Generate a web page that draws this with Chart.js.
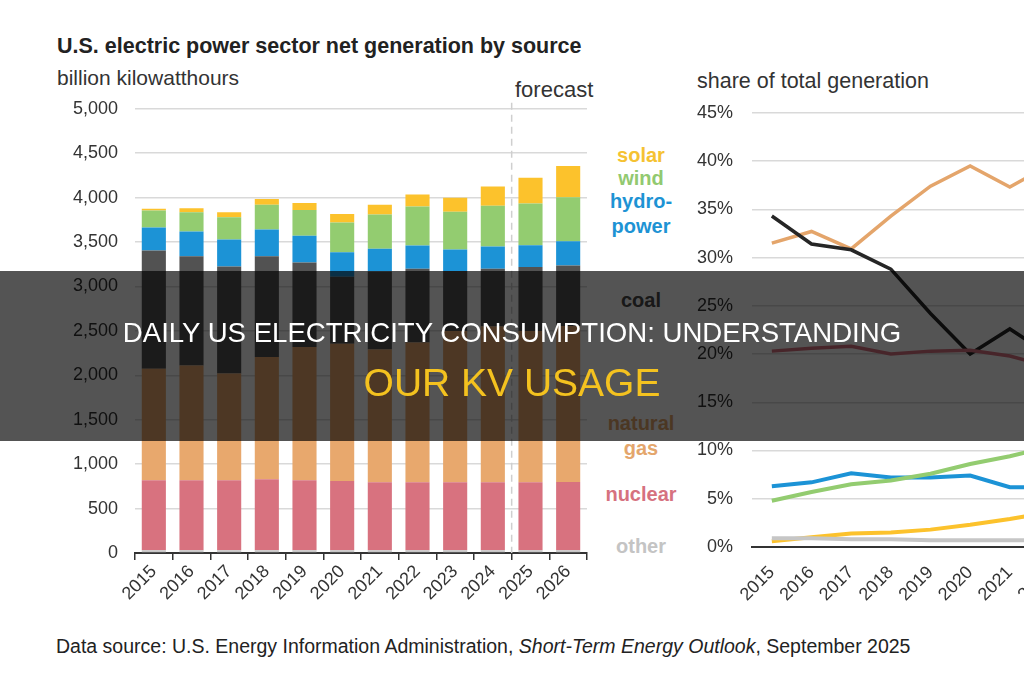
<!DOCTYPE html>
<html>
<head>
<meta charset="utf-8">
<script src="https://cdn.jsdelivr.net/npm/chart.js@4.4.1/dist/chart.umd.min.js"></script>
<style>
  html, body { margin: 0; padding: 0; width: 1024px; height: 680px; overflow: hidden; background: #fff; }
  body { position: relative; font-family: "Liberation Sans", Arial, sans-serif; color: #2b2b2b; }
  .abs { position: absolute; white-space: nowrap; line-height: 1; }
  #genWrap { position: absolute; left: 0; top: 81px; width: 600px; height: 549px; }
  #shareWrap { position: absolute; left: 680px; top: 83px; width: 560px; height: 547px; }
  .title { left: 57px; top: 36px; font-size: 21.5px; font-weight: bold; color: #222; }
  .unit { color: #333; }
  .lbl { font-size: 20px; font-weight: bold; width: 90px; left: 596px; text-align: center; }
  .note { left: 56px; top: 637px; font-size: 19.5px; color: #222; }
  #banner { position: absolute; left: 0; top: 271px; width: 1024px; height: 170px; background: rgba(0, 0, 0, 0.67); z-index: 10; }
  .bline { position: absolute; left: 0; width: 1024px; text-align: center; white-space: nowrap; line-height: 1; }
</style>
</head>
<body>
<div class="abs title">U.S. electric power sector net generation by source</div>
<div class="abs unit" style="left:57px; top:67px; font-size:21px;">billion kilowatthours</div>
<div class="abs unit" style="left:515px; top:79px; font-size:22px;">forecast</div>
<div class="abs unit" style="left:697px; top:71px; font-size:21.5px;">share of total generation</div>

<div class="abs lbl" style="top:145px; color:#f5c232;">solar</div>
<div class="abs lbl" style="top:168px; color:#92c970;">wind</div>
<div class="abs lbl" style="top:191px; color:#1d93d4;">hydro-</div>
<div class="abs lbl" style="top:216px; color:#1d93d4;">power</div>
<div class="abs lbl" style="top:290px; color:#4a4a4a;">coal</div>
<div class="abs lbl" style="top:413px; color:#e4a66c;">natural</div>
<div class="abs lbl" style="top:438px; color:#e4a66c;">gas</div>
<div class="abs lbl" style="top:484px; color:#d6727f;">nuclear</div>
<div class="abs lbl" style="top:536px; color:#c4c4c4;">other</div>

<div id="genWrap"><canvas id="genChart"></canvas></div>
<div id="shareWrap"><canvas id="shareChart"></canvas></div>

<div class="abs note">Data source: U.S. Energy Information Administration, <i>Short-Term Energy Outlook</i>, September 2025</div>

<div id="banner">
  <div class="bline" style="top:48px; font-size:27.6px; color:#fff;">DAILY US ELECTRICITY CONSUMPTION: UNDERSTANDING</div>
  <div class="bline" style="top:92px; font-size:39px; color:#f4c21f;">OUR KV USAGE</div>
</div>

<script>
// years on both charts, 2025-2026 are forecast
const years = ['2015', '2016', '2017', '2018', '2019', '2020', '2021', '2022', '2023', '2024', '2025', '2026'];
const forecastFrom = '2025';

// net generation, billion kWh
const otherGen = [30, 30, 30, 30, 30, 30, 30, 30, 30, 30, 30, 30];
const nuclearGen = [790, 790, 790, 800, 790, 780, 765, 765, 765, 765, 765, 770];
const gasGen = [1255, 1290, 1200, 1375, 1500, 1545, 1495, 1575, 1705, 1755, 1705, 1755];
const coalGen = [1330, 1230, 1205, 1135, 950, 755, 880, 830, 675, 650, 720, 680];
const hydroGen = [260, 280, 305, 300, 300, 275, 255, 260, 240, 250, 245, 275];
const windGen = [190, 215, 250, 280, 290, 335, 385, 440, 425, 460, 470, 495];
const solarGen = [20, 45, 55, 65, 80, 95, 110, 135, 160, 215, 290, 350];

// share of total generation, percent
const gasShare = [31.5, 32.7, 30.9, 34.3, 37.4, 39.5, 37.3, 39.6, 42.5, 42.5, 40.5, 40.3];
const coalShare = [34.3, 31.4, 30.8, 28.8, 24.2, 20.0, 22.6, 19.9, 16.5, 15.5, 16.5, 15.5];
const nuclearShare = [20.3, 20.6, 20.8, 20.0, 20.3, 20.4, 19.8, 18.7, 18.9, 18.6, 18.2, 18.0];
const hydroShare = [6.3, 6.7, 7.65, 7.2, 7.2, 7.4, 6.2, 6.2, 5.9, 5.9, 5.8, 6.3];
const windShare = [4.8, 5.7, 6.5, 6.9, 7.6, 8.6, 9.4, 10.4, 10.3, 10.9, 11.1, 11.4];
const solarShare = [0.6, 1.0, 1.4, 1.5, 1.8, 2.3, 2.9, 3.6, 4.0, 5.2, 6.7, 7.8];
const otherShare = [0.9, 0.9, 0.8, 0.8, 0.7, 0.7, 0.7, 0.7, 0.6, 0.6, 0.6, 0.6];

const colors = {
    other: '#c6c6c6',
    nuclear: '#d8727f',
    gas: '#e8a86d',
    coal: '#525252',
    hydro: '#1c93d6',
    wind: '#93cc70',
    solar: '#fcc22c'
};

Chart.defaults.font.family = '"Liberation Sans", Arial, sans-serif';
Chart.defaults.color = '#333';
Chart.defaults.animation = false;

const gridColor = '#d9d9d9';
const tickFont = { size: 18 };

// dashed separator between history and forecast
const forecastLine = {
    id: 'forecastLine',
    beforeDatasetsDraw(chart) {
        const xs = chart.scales.x;
        const i = years.indexOf(forecastFrom);
        const px = (xs.getPixelForValue(i - 1) + xs.getPixelForValue(i)) / 2;
        const ctx = chart.ctx;
        ctx.save();
        ctx.strokeStyle = '#cfcfcf';
        ctx.lineWidth = 1.5;
        ctx.setLineDash([7, 5]);
        ctx.beginPath();
        ctx.moveTo(px, chart.chartArea.top - 6);
        ctx.lineTo(px, chart.chartArea.bottom);
        ctx.stroke();
        ctx.restore();
    }
};

function barSet(label, data, color) {
    return { label, data, backgroundColor: color, borderWidth: 0 };
}

new Chart(document.getElementById('genChart'), {
    type: 'bar',
    data: {
        labels: years,
        datasets: [
            barSet('other', otherGen, colors.other),
            barSet('nuclear', nuclearGen, colors.nuclear),
            barSet('natural gas', gasGen, colors.gas),
            barSet('coal', coalGen, colors.coal),
            barSet('hydropower', hydroGen, colors.hydro),
            barSet('wind', windGen, colors.wind),
            barSet('solar', solarGen, colors.solar)
        ]
    },
    options: {
        responsive: true,
        maintainAspectRatio: false,
        layout: { padding: { top: 8, right: 13, left: 0, bottom: 0 } },
        categoryPercentage: 1,
        barPercentage: 0.64,
        plugins: { legend: { display: false }, tooltip: { enabled: false } },
        scales: {
            x: {
                stacked: true,
                afterFit: (scale) => { scale.height = 77; },
                grid: { drawOnChartArea: false, drawTicks: true, tickLength: 7, color: '#333', lineWidth: 1.5, offset: true },
                border: { color: '#333', width: 2 },
                ticks: { minRotation: 45, maxRotation: 45, font: tickFont, color: '#333', padding: 1 }
            },
            y: {
                stacked: true,
                min: 0,
                max: 5000,
                afterFit: (scale) => { scale.width = 135; },
                grid: { color: gridColor, lineWidth: 1.5, drawTicks: false },
                border: { display: false },
                ticks: {
                    stepSize: 500,
                    padding: 17,
                    font: tickFont,
                    color: '#333',
                    callback: (v) => v.toLocaleString('en-US')
                }
            }
        }
    },
    plugins: [forecastLine]
});

function lineSet(label, data, color, width) {
    return { label, data, borderColor: color, borderWidth: width, pointRadius: 0, tension: 0, fill: false };
}

new Chart(document.getElementById('shareChart'), {
    type: 'line',
    data: {
        labels: years,
        datasets: [
            lineSet('other', otherShare, colors.other, 4),
            lineSet('solar', solarShare, colors.solar, 4),
            lineSet('wind', windShare, colors.wind, 4),
            lineSet('hydropower', hydroShare, colors.hydro, 4),
            lineSet('nuclear', nuclearShare, colors.nuclear, 3.5),
            lineSet('coal', coalShare, '#262626', 3.5),
            lineSet('natural gas', gasShare, '#e4a56b', 3.5)
        ]
    },
    options: {
        responsive: true,
        maintainAspectRatio: false,
        layout: { padding: { top: 12, right: 12, left: 0, bottom: 0 } },
        plugins: { legend: { display: false }, tooltip: { enabled: false } },
        scales: {
            x: {
                offset: true,
                afterFit: (scale) => { scale.height = 83; },
                grid: { display: false },
                border: { color: '#333', width: 2 },
                ticks: { minRotation: 45, maxRotation: 45, font: tickFont, color: '#333', padding: 7 }
            },
            y: {
                min: 0,
                max: 45,
                afterFit: (scale) => { scale.width = 72; },
                grid: { color: gridColor, lineWidth: 1.5, drawTicks: false },
                border: { display: false },
                ticks: { stepSize: 5, padding: 19, font: tickFont, color: '#333', callback: (v) => v + '%' }
            }
        }
    }
});
</script>
</body>
</html>
